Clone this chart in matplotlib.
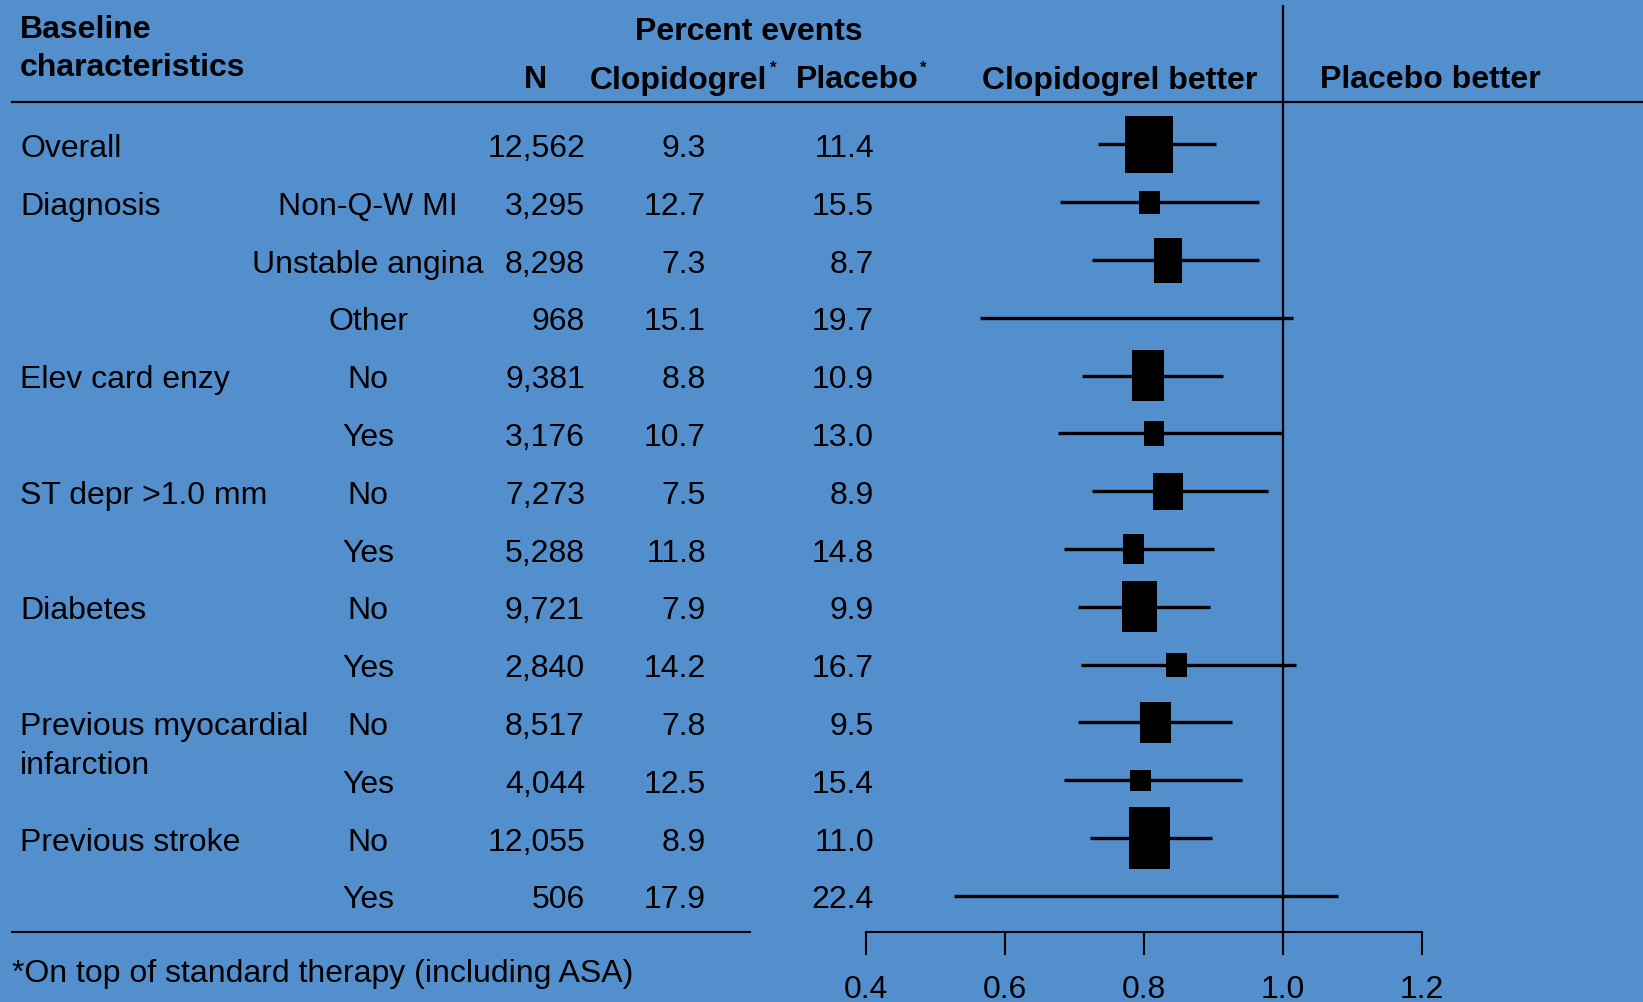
import matplotlib
matplotlib.use("Agg")
import matplotlib.pyplot as plt
from matplotlib.patches import Rectangle
from matplotlib.lines import Line2D
from matplotlib import transforms

# table data
groups = ["Overall", "Diagnosis", "", "", "Elev card enzy", "", "ST depr >1.0 mm", "",
          "Diabetes", "", "Previous myocardial", "", "Previous stroke", ""]
subgroups = ["", "Non-Q-W MI", "Unstable angina", "Other", "No", "Yes", "No", "Yes",
             "No", "Yes", "No", "Yes", "No", "Yes"]
n_pts = ["12,562", "3,295", "8,298", "968", "9,381", "3,176", "7,273", "5,288",
         "9,721", "2,840", "8,517", "4,044", "12,055", "506"]
clopi = ["9.3", "12.7", "7.3", "15.1", "8.8", "10.7", "7.5", "11.8",
         "7.9", "14.2", "7.8", "12.5", "8.9", "17.9"]
placebo = ["11.4", "15.5", "8.7", "19.7", "10.9", "13.0", "8.9", "14.8",
           "9.9", "16.7", "9.5", "15.4", "11.0", "22.4"]

# relative risk + 95% CI
rr = [0.807, 0.808, 0.835, 0.77, 0.806, 0.814, 0.835, 0.785, 0.794, 0.847, 0.816, 0.795, 0.808, 0.80]
lo = [0.734, 0.679, 0.725, 0.564, 0.711, 0.676, 0.725, 0.685, 0.705, 0.709, 0.705, 0.685, 0.722, 0.527]
hi = [0.903, 0.966, 0.966, 1.015, 0.914, 0.998, 0.978, 0.901, 0.895, 1.019, 0.926, 0.941, 0.898, 1.079]
# box weights (width in RR units, height in rows)
box_w = [0.0686, 0.0292, 0.0407, 0, 0.0465, 0.0292, 0.0432, 0.0292, 0.0508, 0.0298, 0.0446, 0.0292, 0.0586, 0]
box_h = [1.0, 0.39, 0.78, 0, 0.88, 0.44, 0.65, 0.52, 0.88, 0.42, 0.71, 0.37, 1.06, 0]

ticks = [0.4, 0.6, 0.8, 1.0, 1.2]
tick_labels = ["0.4", "0.6", "0.8", "1.0", "1.2"]

W, H = 1643, 1003
bg = "#548FCD"
plt.rcParams["font.family"] = ["Liberation Sans", "DejaVu Sans"]
fs = 23

fig = plt.figure(figsize=(W / 100, H / 100), dpi=100, facecolor=bg)

y0, dy = 145.5, 57.8  # pixel of row 0, row step
def r_of(p):
    return (p - y0) / dy

ax = fig.add_axes([866 / W, 0, 556 / W, 1])
ax.set_facecolor("none")
ax.set_xlim(0.4, 1.2)
ax.set_ylim(r_of(H), r_of(0))
for s in ["top", "left", "right"]:
    ax.spines[s].set_visible(False)
r_axis = r_of(932.7)
ax.spines["bottom"].set_position(("data", r_axis))
ax.spines["bottom"].set_bounds(0.4, 1.2)
ax.spines["bottom"].set_linewidth(1.5)
ax.set_yticks([])
ax.set_xticks(ticks)
ax.set_xticklabels(tick_labels, fontsize=fs)
ax.tick_params(axis="x", length=16.5, width=1.5, pad=14, direction="out")

rows = list(range(len(rr)))
ax.vlines(1.0, r_of(6), r_axis, color="black", lw=1.6)
ax.hlines(rows, lo, hi, color="black", lw=2.4)
for i in rows:
    if box_w[i] > 0:
        ax.add_patch(Rectangle((rr[i] - box_w[i] / 2, i - box_h[i] / 2), box_w[i], box_h[i],
                               facecolor="black", edgecolor="none", zorder=3))

# text columns (x in pixels, y in rows)
tr = transforms.blended_transform_factory(fig.transFigure, ax.transData)
def txt(px, r, s, **kw):
    ax.text(px / W, r, s, transform=tr, fontsize=fs, va="center_baseline", clip_on=False, **kw)

for i in rows:
    if groups[i]:
        txt(20, i, groups[i], ha="left")
    if subgroups[i]:
        txt(368, i, subgroups[i], ha="center")
    txt(585, i, n_pts[i], ha="right")
    txt(706, i, clopi[i], ha="right")
    txt(874, i, placebo[i], ha="right")
txt(20, 10 + 0.67, "infarction", ha="left")

# header
def ftxt(px, py, s, **kw):
    fig.text(px / W, 1 - py / H, s, fontsize=kw.pop("size", fs), va=kw.pop("va", "center_baseline"), **kw)

ftxt(20, 27, "Baseline", ha="left", fontweight="bold")
ftxt(20, 65, "characteristics", ha="left", fontweight="bold")
ftxt(749, 28, "Percent events", ha="center", fontweight="bold")
ftxt(535, 77, "N", ha="center", fontweight="bold")
ftxt(590, 77, "Clopidogrel", ha="left", fontweight="bold")
ftxt(770, 67, "*", ha="left", fontweight="bold", size=12)
ftxt(796, 77, "Placebo", ha="left", fontweight="bold")
ftxt(920, 67, "*", ha="left", fontweight="bold", size=12)
ftxt(1120, 77, "Clopidogrel better", ha="center", fontweight="bold")
ftxt(1430, 77, "Placebo better", ha="center", fontweight="bold")
ftxt(12, 971, "*On top of standard therapy (including ASA)", ha="left")

fig.add_artist(Line2D([12 / W, 1], [1 - 103 / H, 1 - 103 / H], color="black", lw=1.6))
fig.add_artist(Line2D([12 / W, 750 / W], [1 - 932.7 / H, 1 - 932.7 / H], color="black", lw=1.5))

fig.savefig("out.png", dpi=100, facecolor=bg)
